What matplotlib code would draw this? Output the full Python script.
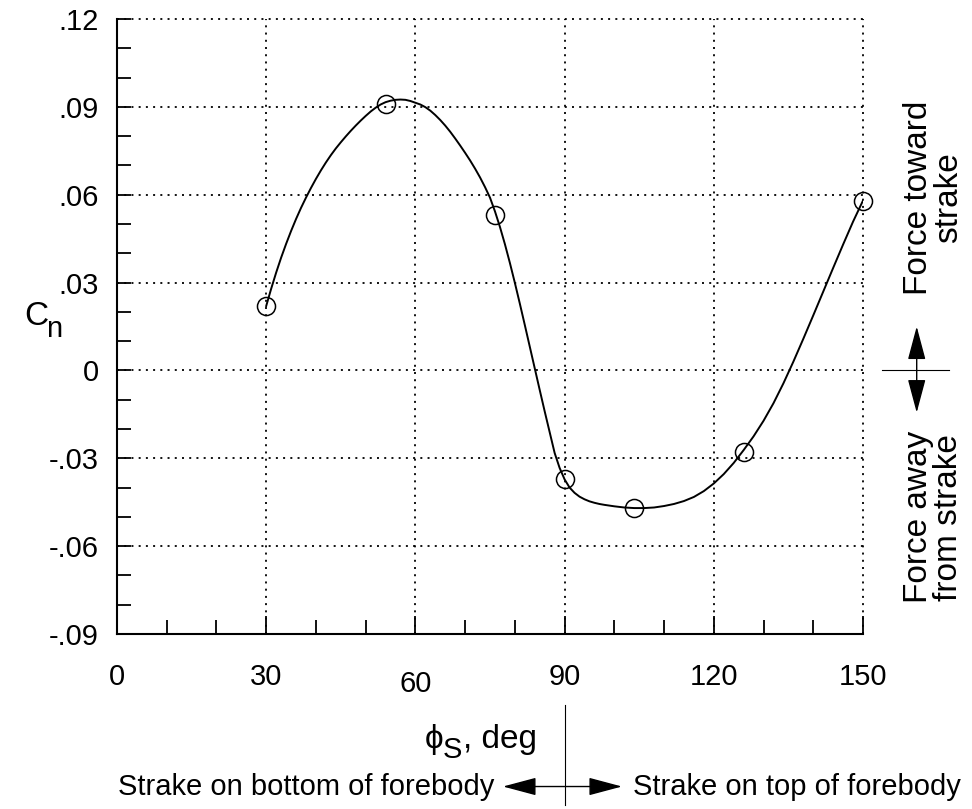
import matplotlib
matplotlib.use('Agg')
import matplotlib.pyplot as plt
from matplotlib.ticker import MultipleLocator

plt.rcParams['font.family'] = ['Liberation Sans', 'DejaVu Sans']
plt.rcParams['font.size'] = 21

# measured points
phi_pts = [30, 54, 76, 90, 104, 126, 150]
cn_pts = [0.022, 0.091, 0.053, -0.037, -0.047, -0.028, 0.058]

# faired curve
fair_phi = [30, 31, 32, 33, 34, 35, 36, 37, 38, 39, 40, 41, 42, 43, 44, 45, 46, 47,
            48, 49, 50, 51, 52, 53, 54, 55, 56, 57, 58, 59, 60, 61, 62, 63, 64, 65,
            66, 67, 68, 69, 70, 71, 72, 73, 74, 75, 76, 77, 78, 79, 80, 81, 82, 83,
            84, 85, 86, 87, 88, 89, 90, 91, 92, 93, 94, 95, 96, 97, 98, 100, 102,
            104, 106, 108, 110, 112, 114, 116, 118, 120, 122, 124, 126, 128, 130,
            132, 134, 136, 138, 140, 142, 144, 146, 148, 150]
fair_cn = [0.0220, 0.0279, 0.0334, 0.0385, 0.0432, 0.0476, 0.0517, 0.0555, 0.0590,
           0.0623, 0.0654, 0.0683, 0.0710, 0.0735, 0.0758, 0.0779, 0.0799, 0.0818,
           0.0836, 0.0853, 0.0869, 0.0884, 0.0897, 0.0908, 0.0916, 0.0921, 0.0924,
           0.0925, 0.0924, 0.0920, 0.0914, 0.0908, 0.0899, 0.0887, 0.0872, 0.0855,
           0.0836, 0.0815, 0.0792, 0.0768, 0.0743, 0.0717, 0.0689, 0.0659, 0.0626,
           0.0590, 0.0543, 0.0490, 0.0431, 0.0367, 0.0299, 0.0228, 0.0155, 0.0081,
           0.0007, -0.0067, -0.0140, -0.0211, -0.0282, -0.0333, -0.0372, -0.0400,
           -0.0418, -0.0431, -0.0440, -0.0447, -0.0452, -0.0456, -0.0459, -0.0464,
           -0.0468, -0.0470, -0.0470, -0.0468, -0.0463, -0.0456, -0.0446, -0.0432,
           -0.0412, -0.0386, -0.0354, -0.0316, -0.0272, -0.0225, -0.0172, -0.0112,
           -0.0044, 0.0030, 0.0108, 0.0188, 0.0269, 0.0350, 0.0430, 0.0508, 0.0580]

xticks = [0, 30, 60, 90, 120, 150]
yticks = [-0.09, -0.06, -0.03, 0, 0.03, 0.06, 0.09, 0.12]
ytick_labels = ['-.09', '-.06', '-.03', '0', '.03', '.06', '.09', '.12']

dots = (0, (1.1, 2.9))
arrow_style = '<|-|>,head_length=1.5,head_width=0.4'
label_size = 24

fig = plt.figure(figsize=(9.72, 8.09), dpi=100)
fig.set_facecolor('white')
ax = fig.add_axes([117 / 972, 1 - 634 / 809, 746 / 972, 615 / 809])

ax.plot(fair_phi, fair_cn, color='black', lw=1.4, zorder=3)
ax.plot(phi_pts, cn_pts, 'o', ms=13, mfc='none', mec='black', mew=1.1, zorder=4,
        clip_on=False)

ax.set_xlim(0, 150)
ax.set_ylim(-0.09, 0.12)
ax.set_xticks(xticks)
ax.set_xticklabels([str(v) for v in xticks])
ax.set_yticks(yticks)
ax.set_yticklabels(ytick_labels)
ax.xaxis.set_minor_locator(MultipleLocator(10))
ax.yaxis.set_minor_locator(MultipleLocator(0.01))

ax.grid(True, which='major', color='black', lw=1.3, linestyle=dots)
for gl in ax.get_xgridlines() + ax.get_ygridlines():
    gl.set_clip_on(False)
ax.spines['top'].set_visible(False)
ax.spines['right'].set_visible(False)
ax.spines['left'].set_linewidth(1.5)
ax.spines['bottom'].set_linewidth(1.5)

ax.tick_params(which='both', direction='in', top=False, right=False, width=1.3,
               colors='black')
ax.tick_params(axis='x', which='major', length=13, pad=21)
ax.tick_params(axis='x', which='minor', length=10)
ax.tick_params(axis='y', which='both', length=10, pad=13)
for t in ax.xaxis.get_major_ticks():
    if t.get_loc() == 60:
        t.set_pad(26)

# y label C_n
ax.annotate('C', xy=(-0.0925, 0.516), xycoords='axes fraction', ha='right',
            va='center', fontsize=label_size)
ax.annotate('n', xy=(-0.0925, 0.516), xycoords='axes fraction', xytext=(-1.5, -9),
            textcoords='offset points', ha='left', va='center', fontsize=21)

# x label phi_S, deg
ax.annotate('\u03d5', xy=(0.437, -0.172), xycoords='axes fraction', ha='right',
            va='center', fontsize=label_size)
ax.annotate('S', xy=(0.437, -0.172), xycoords='axes fraction', xytext=(0, -7),
            textcoords='offset points', ha='left', va='center', fontsize=21)
ax.annotate(', deg', xy=(0.437, -0.172), xycoords='axes fraction',
            xytext=(14.5, 0), textcoords='offset points', ha='left', va='center',
            fontsize=label_size)

# divider below the axis and direction arrows
xt = ax.get_xaxis_transform()
ax.plot([90, 90], [-0.115, -0.278], transform=xt, color='black', lw=0.8,
        clip_on=False)
ax.annotate('', xy=(0.5174, -0.248), xytext=(0.6769, -0.248),
            xycoords='axes fraction', textcoords='axes fraction',
            arrowprops=dict(arrowstyle=arrow_style, color='black', lw=1.0,
                            mutation_scale=14, shrinkA=0, shrinkB=0))
ax.text(0.5054, -0.248, 'Strake on bottom of forebody', transform=ax.transAxes,
        ha='right', va='center')
ax.text(0.6917, -0.248, 'Strake on top of forebody', transform=ax.transAxes,
        ha='left', va='center')

ax.plot([1.0255, 1.115], [0.4286, 0.4286], transform=ax.transAxes, color='black',
        lw=0.8, clip_on=False)
ax.annotate('', xy=(1.072, 0.50), xytext=(1.072, 0.36),
            xycoords='axes fraction', textcoords='axes fraction',
            arrowprops=dict(arrowstyle=arrow_style, color='black', lw=1.0,
                            mutation_scale=14, shrinkA=0, shrinkB=0))
ax.text(1.0945, 0.709, 'Force toward\nstrake', transform=ax.transAxes, rotation=90,
        ha='center', va='center', linespacing=0.95, multialignment='center',
        fontsize=label_size)
ax.text(1.0945, 0.19, 'Force away\nfrom strake', transform=ax.transAxes,
        rotation=90, ha='center', va='center', linespacing=0.95,
        multialignment='center', fontsize=label_size)

fig.savefig('out.png', dpi=100)
